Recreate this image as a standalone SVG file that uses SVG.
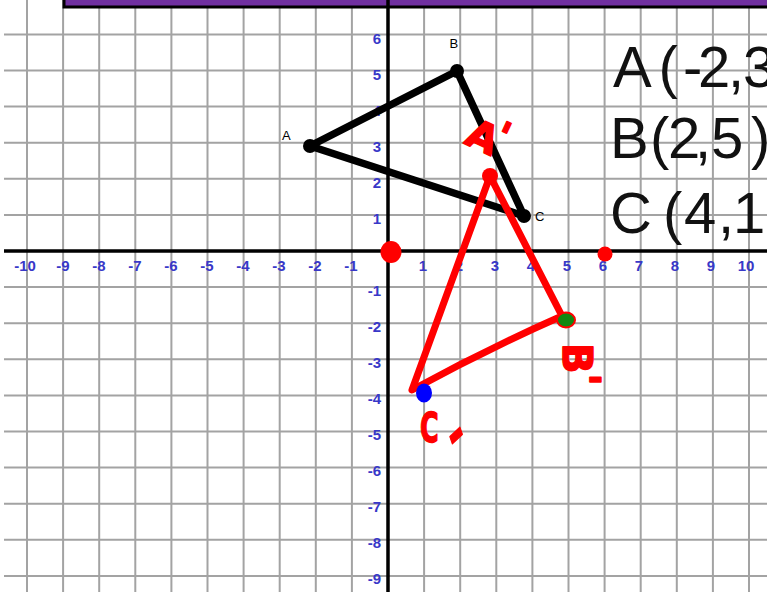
<svg xmlns="http://www.w3.org/2000/svg" width="767" height="592" viewBox="0 0 767 592">
<style>
.grid{stroke:#a3a3a3;stroke-width:2;fill:none}
.axis{stroke:#000;stroke-width:3.5;fill:none}
.xl{font-family:"Liberation Sans",Arial,sans-serif;font-weight:bold;font-size:15px;fill:#3838c8;text-anchor:middle}
.yl{font-family:"Liberation Sans",Arial,sans-serif;font-weight:bold;font-size:15px;fill:#3838c8;text-anchor:end}
.vl{font-family:"Liberation Sans",Arial,sans-serif;font-size:13px;fill:#000}
.big{font-family:"Liberation Sans",Arial,sans-serif;font-size:58px;fill:#111}
.tri{stroke:#000;stroke-width:7.5;fill:none;stroke-linejoin:round;stroke-linecap:round}
.red{stroke:#ff0000;stroke-width:7;fill:none;stroke-linejoin:round;stroke-linecap:round}
.hand{font-family:"DejaVu Sans",sans-serif;font-weight:bold;fill:#ff0000;stroke:#ff0000;stroke-width:1.5;stroke-linejoin:round}
</style>
<rect width="767" height="592" fill="#fff"/>
<g id="grid">
<path class="grid" d="M27 0V592M63.1 0V592M99.2 0V592M135.3 0V592M171.4 0V592M207.5 0V592M243.6 0V592M279.7 0V592M315.8 0V592M351.9 0V592M424.1 0V592M460.2 0V592M496.3 0V592M532.4 0V592M568.5 0V592M604.6 0V592M640.7 0V592M676.8 0V592M712.9 0V592M749 0V592"/>
<path class="grid" d="M4 34.4H767M4 70.5H767M4 106.6H767M4 142.7H767M4 178.8H767M4 214.9H767M4 287.1H767M4 323.2H767M4 359.3H767M4 395.4H767M4 431.5H767M4 467.6H767M4 503.7H767M4 539.8H767M4 575.9H767"/>
</g>
<g id="header">
<rect x="64" y="-4" width="710" height="11" fill="#7030a0" stroke="#000" stroke-width="3"/>
</g>
<g id="axes">
<path class="axis" d="M4 251H767M388 0V592"/>
</g>
<g id="x-labels">
<text class="xl" x="25" y="270.5">-10</text>
<text class="xl" x="63" y="270.5">-9</text>
<text class="xl" x="99" y="270.5">-8</text>
<text class="xl" x="135" y="270.5">-7</text>
<text class="xl" x="171" y="270.5">-6</text>
<text class="xl" x="207" y="270.5">-5</text>
<text class="xl" x="243" y="270.5">-4</text>
<text class="xl" x="279" y="270.5">-3</text>
<text class="xl" x="315" y="270.5">-2</text>
<text class="xl" x="351" y="270.5">-1</text>
<text class="xl" x="423" y="270.5">1</text>
<text class="xl" x="459" y="270.5">2</text>
<text class="xl" x="495" y="270.5">3</text>
<text class="xl" x="531" y="270.5">4</text>
<text class="xl" x="567" y="270.5">5</text>
<text class="xl" x="603" y="270.5">6</text>
<text class="xl" x="639" y="270.5">7</text>
<text class="xl" x="675" y="270.5">8</text>
<text class="xl" x="711" y="270.5">9</text>
<text class="xl" x="746" y="270.5">10</text>
</g>
<g id="y-labels">
<text class="yl" x="381" y="43.5">6</text>
<text class="yl" x="381" y="79.5">5</text>
<text class="yl" x="381" y="115.5">4</text>
<text class="yl" x="381" y="151.5">3</text>
<text class="yl" x="381" y="187.5">2</text>
<text class="yl" x="381" y="223.5">1</text>
<text class="yl" x="381" y="296">-1</text>
<text class="yl" x="381" y="332">-2</text>
<text class="yl" x="381" y="368">-3</text>
<text class="yl" x="381" y="404">-4</text>
<text class="yl" x="381" y="440">-5</text>
<text class="yl" x="381" y="476">-6</text>
<text class="yl" x="381" y="512">-7</text>
<text class="yl" x="381" y="548">-8</text>
<text class="yl" x="381" y="584">-9</text>
</g>
<g id="coordinates">
<text class="big" x="613 658.5 683 698 728 743" y="87">A(-2,3</text>
<text class="big" x="610 650 668 695 711 751" y="158">B(2,5)</text>
<text class="big" x="610 663 684 718 733" y="233">C(4,1</text>
</g>
<g id="vertex-labels">
<text class="vl" x="282" y="140">A</text>
<text class="vl" x="449.5" y="48">B</text>
<text class="vl" x="535" y="220.5">C</text>
</g>
<g id="connectors">
<path id="triangle-ABC" class="tri" d="M310 146L457 71L524 216Z"/>
<path id="triangle-image" class="red" d="M490 176L412 390Q487 349 562 316Z"/>
</g>
<g id="node-A"><circle cx="310" cy="146" r="7" fill="#000"/></g>
<g id="node-B"><circle cx="457" cy="71" r="7" fill="#000"/></g>
<g id="node-C"><circle cx="524" cy="216" r="7" fill="#000"/></g>
<g id="origin-dot"><ellipse cx="391" cy="252" rx="10.5" ry="11" fill="#ff0000"/></g>
<g id="x6-dot"><circle cx="605" cy="254" r="7.5" fill="#ff0000"/></g>
<g id="node-A-prime">
<circle cx="490" cy="176" r="8" fill="#ff0000"/>
<text class="hand" font-size="40" transform="translate(463,143) rotate(25)">A<tspan dx="-4" dy="-9">'</tspan></text>
</g>
<g id="node-B-prime">
<ellipse cx="566" cy="320" rx="9" ry="7.5" fill="#118811" stroke="#ff0000" stroke-width="2"/>
<text class="hand" font-size="40" transform="translate(563,343) rotate(90)">B<tspan dy="-8">'</tspan></text>
</g>
<g id="node-C-prime">
<ellipse cx="424" cy="393" rx="8" ry="9.5" fill="#0000ff"/>
<text class="hand" font-size="41" transform="translate(420,442) scale(0.62,1)">C<tspan dx="-13" dy="5" font-size="70" rotate="60">'</tspan></text>
</g>
</svg>
